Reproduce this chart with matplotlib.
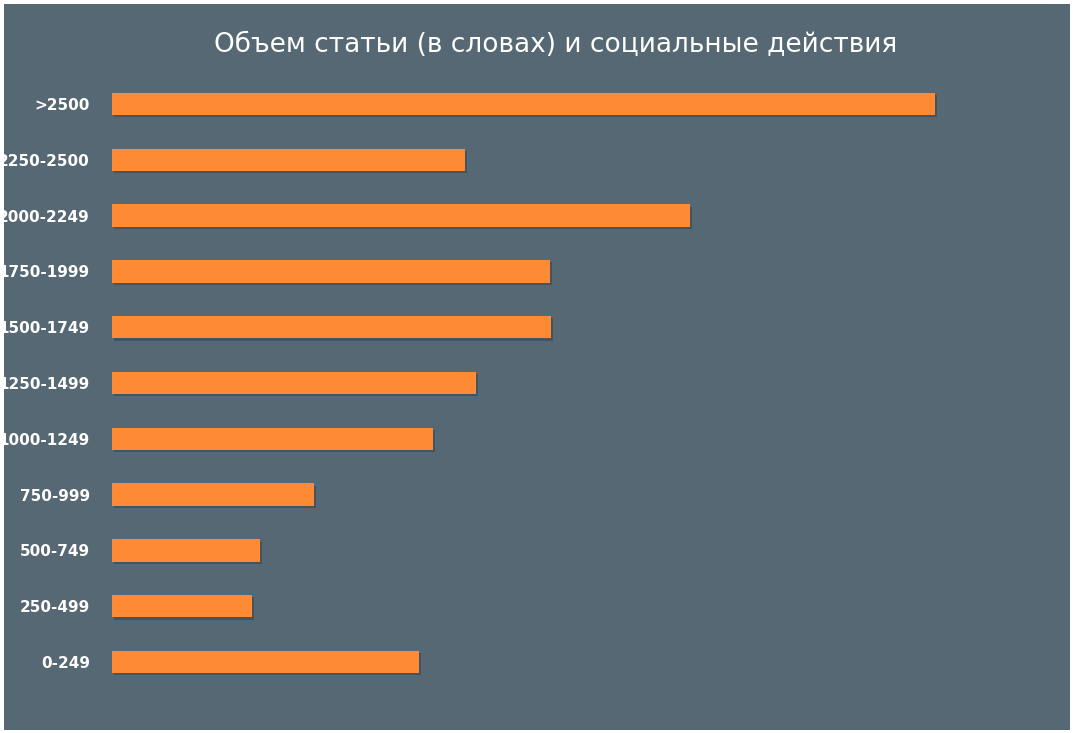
import matplotlib
matplotlib.use("Agg")
import matplotlib.pyplot as plt
from matplotlib.patches import Rectangle

categories = ["0-249", "250-499", "500-749", "750-999", "1000-1249", "1250-1499",
              "1500-1749", "1750-1999", "2000-2249", "2250-2500", ">2500"]
values = [307, 140, 148, 202, 321, 364, 439, 438, 578, 353, 823]

W, H = 1074, 733
bg = "#566873"
fig = plt.figure(figsize=(W/100, H/100), dpi=100, facecolor="white")
fig.patches.append(Rectangle((4/W, 3/H), (W-8)/W, (H-7)/H, transform=fig.transFigure,
                             facecolor=bg, edgecolor="none", zorder=-10))
ax = fig.add_axes([112/W, 1-690/H, 950/W, (690-76)/H])
ax.set_zorder(5)
ax.patch.set_alpha(0)
y = list(range(len(categories)))
# shadow
ax.barh([v - 0.04 for v in y], values, height=0.4, left=2, color="#3a464e", alpha=0.6, zorder=1)
ax.barh(y, values, height=0.4, color="#ff8a35", zorder=2)
ax.set_xlim(0, 950)
ax.set_ylim(-0.5, 10.5)
ax.set_yticks(y)
ax.set_yticklabels(categories, color="white", fontsize=11, fontweight="bold", family="DejaVu Sans")
ax.tick_params(axis="y", length=0, pad=16)
ax.set_xticks([])
for s in ax.spines.values():
    s.set_visible(False)
fig.text(556/W, 1-45/H, "Объем статьи (в словах) и социальные действия", color="white",
         fontsize=19, ha="center", va="center", zorder=6)
fig.savefig("out.png", dpi=100, facecolor="white")
